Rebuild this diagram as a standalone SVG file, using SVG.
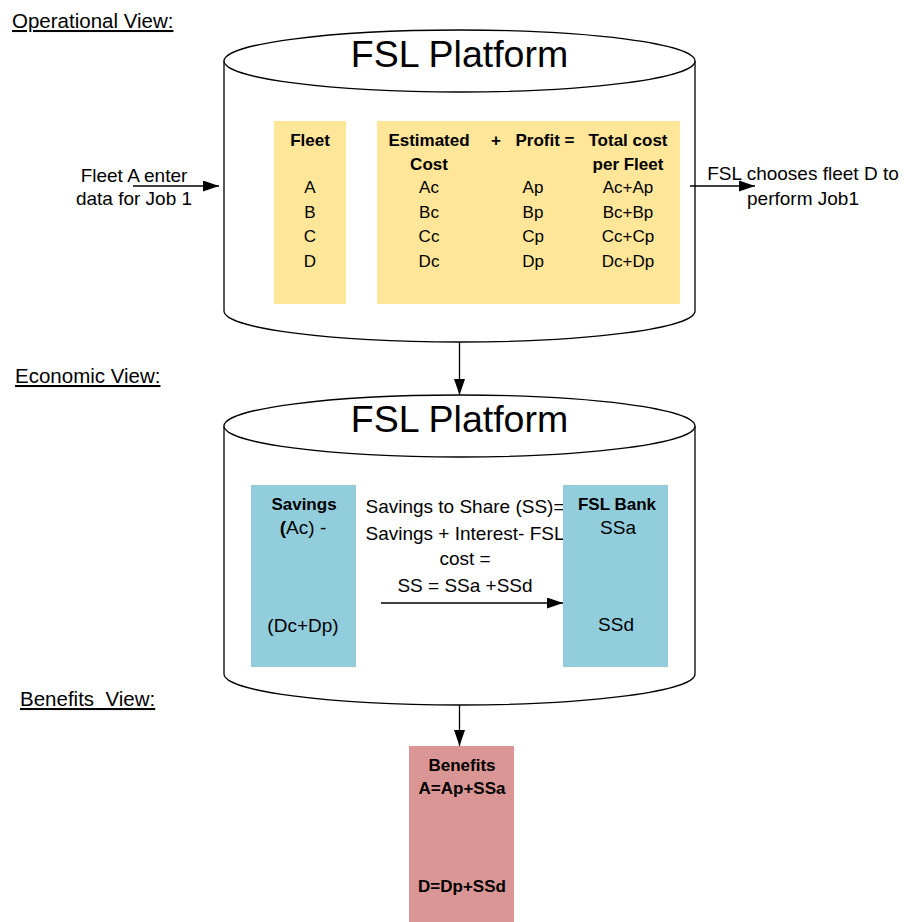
<svg xmlns="http://www.w3.org/2000/svg" width="904" height="922" viewBox="0 0 904 922">
<style>
text{font-family:"Liberation Sans",Arial,sans-serif;fill:#000}
.t{font-size:37.5px;text-anchor:middle}
.lbl{font-size:20.5px;text-decoration:underline}
.n{font-size:19px;text-anchor:middle}
.tb{font-size:17px;text-anchor:middle}
.b{font-weight:bold}
.cyl{fill:#fff;stroke:#000;stroke-width:1.3}
.yel{fill:#FFE699}
.blu{fill:#92CDDC}
.pnk{fill:#DA9694}
.con{fill:none;stroke:#000;stroke-width:1.3;marker-end:url(#ah)}
</style>
<defs>
<marker id="ah" markerUnits="userSpaceOnUse" markerWidth="16" markerHeight="11" refX="16" refY="5.5" orient="auto">
<path d="M0,0 L16,5.5 L0,11 Z" fill="#000"/>
</marker>
</defs>
<rect width="904" height="922" fill="#fff"/>

<g id="labels">
<text class="lbl" x="12" y="28">Operational View:</text>
<text class="lbl" x="15" y="383">Economic View:</text>
<text class="lbl" x="20" y="706" xml:space="preserve">Benefits  View:</text>
<text class="n" x="134" y="182">Fleet A enter</text>
<text class="n" x="134" y="205">data for Job 1</text>
<text class="n" x="803" y="180">FSL chooses fleet D to</text>
<text class="n" x="803" y="205">perform Job1</text>
</g>

<g id="operational-platform">
<path class="cyl" d="M224,61 V311 A235.5,31 0 0 0 695,311 V61 A235.5,31 0 0 0 224,61 Z"/>
<path class="cyl" fill="none" d="M224,61 A235.5,31 0 0 0 695,61"/>
<text class="t" x="459.5" y="67">FSL Platform</text>
<g id="fleet-table">
<rect class="yel" x="274" y="121" width="72" height="183"/>
<text class="tb b" x="310" y="146">Fleet</text>
<text class="tb" x="310" y="193">A</text>
<text class="tb" x="310" y="218">B</text>
<text class="tb" x="310" y="242">C</text>
<text class="tb" x="310" y="267">D</text>
</g>
<g id="cost-table">
<rect class="yel" x="377" y="121" width="303" height="183"/>
<text class="tb b" x="429" y="146">Estimated</text>
<text class="tb b" x="429" y="170">Cost</text>
<text class="tb b" x="496" y="146">+</text>
<text class="tb b" x="545" y="146">Profit =</text>
<text class="tb b" x="628" y="146">Total cost</text>
<text class="tb b" x="628" y="170">per Fleet</text>
<text class="tb" x="429" y="193">Ac</text>
<text class="tb" x="429" y="218">Bc</text>
<text class="tb" x="429" y="242">Cc</text>
<text class="tb" x="429" y="267">Dc</text>
<text class="tb" x="533" y="193">Ap</text>
<text class="tb" x="533" y="218">Bp</text>
<text class="tb" x="533" y="242">Cp</text>
<text class="tb" x="533" y="267">Dp</text>
<text class="tb" x="628" y="193">Ac+Ap</text>
<text class="tb" x="628" y="218">Bc+Bp</text>
<text class="tb" x="628" y="242">Cc+Cp</text>
<text class="tb" x="628" y="267">Dc+Dp</text>
</g>
</g>

<g id="economic-platform">
<path class="cyl" d="M224,426 V674 A235.5,31 0 0 0 695,674 V426 A235.5,31 0 0 0 224,426 Z"/>
<path class="cyl" fill="none" d="M224,426 A235.5,31 0 0 0 695,426"/>
<text class="t" x="459.5" y="432">FSL Platform</text>
<g id="savings">
<rect class="blu" x="251" y="485" width="105" height="182"/>
<text class="tb b" x="304" y="510">Savings</text>
<text class="n" x="303" y="534"><tspan class="b">(</tspan>Ac) -</text>
<text class="n" x="303" y="632">(Dc+Dp)</text>
</g>
<g id="savings-formula">
<text class="n" x="465" y="513">Savings to Share (SS)=</text>
<text class="n" x="465" y="540">Savings + Interest- FSL</text>
<text class="n" x="465" y="565">cost =</text>
<text class="n" x="465" y="592">SS = SSa +SSd</text>
</g>
<g id="fsl-bank">
<rect class="blu" x="563" y="485" width="105" height="182"/>
<text class="tb b" x="617" y="510">FSL Bank</text>
<text class="n" x="618" y="534">SSa</text>
<text class="n" x="616" y="631">SSd</text>
</g>
</g>

<g id="benefits">
<rect class="pnk" x="409" y="746" width="105" height="180"/>
<text class="tb b" x="462" y="771">Benefits</text>
<text class="tb b" x="462" y="794">A=Ap+SSa</text>
<text class="tb b" x="462" y="892">D=Dp+SSd</text>
</g>

<g id="connectors">
<line class="con" x1="133" y1="186" x2="219" y2="186"/>
<line class="con" x1="690" y1="186" x2="755" y2="186"/>
<line class="con" x1="459.5" y1="342" x2="459.5" y2="395"/>
<line class="con" x1="381" y1="603" x2="563" y2="603"/>
<line class="con" x1="459.5" y1="705" x2="459.5" y2="746"/>
</g>
</svg>
